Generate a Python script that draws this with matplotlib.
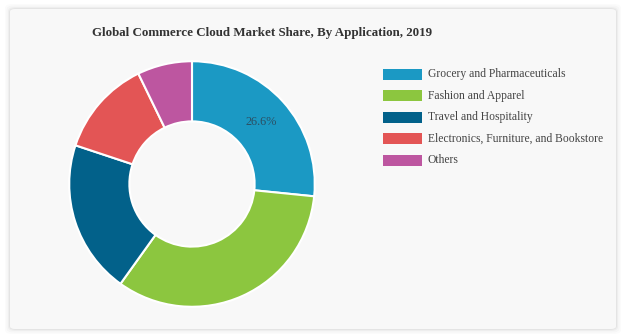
import matplotlib
matplotlib.use("Agg")
import matplotlib.pyplot as plt
import numpy as np
from matplotlib.patches import FancyBboxPatch, Rectangle

categories = [
    "Grocery and Pharmaceuticals",
    "Fashion and Apparel",
    "Travel and Hospitality",
    "Electronics, Furniture, and Bookstore",
    "Others",
]
shares = [26.6, 33.3, 20.2, 12.7, 7.2]
colors = ["#1b99c4", "#8cc63f", "#02618a", "#e35555", "#bd56a0"]
title = "Global Commerce Cloud Market Share, By Application, 2019"

W, H = 624, 336
fig = plt.figure(figsize=(W / 100, H / 100), dpi=100)
fig.set_facecolor("white")


def fx(px):
    return px / W


def fy(py):
    return 1 - py / H


# card with soft shadow
for grow, alpha in [(5, 0.015), (3.5, 0.02), (2, 0.03), (1, 0.04)]:
    fig.add_artist(FancyBboxPatch(
        (fx(10 - grow), fy(329 + grow)), fx(606 + 2 * grow), (320 + 2 * grow) / H,
        boxstyle="round,pad=0,rounding_size=0.012", transform=fig.transFigure,
        facecolor="black", edgecolor="none", alpha=alpha, zorder=0))
fig.add_artist(FancyBboxPatch(
    (fx(10), fy(329)), fx(606), 320 / H,
    boxstyle="round,pad=0,rounding_size=0.008", transform=fig.transFigure,
    facecolor="#f8f8f8", edgecolor="none", zorder=1))

fig.text(fx(262), fy(33), title, ha="center", va="center", fontsize=9.4,
         fontweight="bold", family="Liberation Serif", color="#333333")

# donut
cx, cy, R = 192, 184, 124
ax = fig.add_axes([fx(cx - R), 1 - (cy + R) / H, 2 * R / W, 2 * R / H])
ax.set_zorder(2)
wedges, _ = ax.pie(
    shares, colors=colors, startangle=90, counterclock=False, radius=1,
    wedgeprops=dict(width=0.49, edgecolor="white", linewidth=1.5),
)
ax.set_xlim(-1.01, 1.01)
ax.set_ylim(-1.01, 1.01)
ax.axis("off")

# label on the first slice only
mid = np.deg2rad(90 - shares[0] / 100 * 360 / 2)
ax.text(0.755 * np.cos(mid), 0.755 * np.sin(mid), f"{shares[0]}%",
        ha="center", va="center", fontsize=8.8, family="Liberation Serif",
        color="#2b4f63")

# legend
for i, (name, c) in enumerate(zip(categories, colors)):
    yc = 74.5 + i * 21.45
    fig.add_artist(Rectangle((fx(383), fy(yc + 5.5)), fx(39), 11 / H,
                             transform=fig.transFigure, facecolor=c,
                             edgecolor="none", zorder=3))
    fig.text(fx(428), fy(yc), name, ha="left", va="center", fontsize=8.4,
             family="Liberation Serif", color="#444444", zorder=3)

fig.savefig("out.png", dpi=100, facecolor="white")
